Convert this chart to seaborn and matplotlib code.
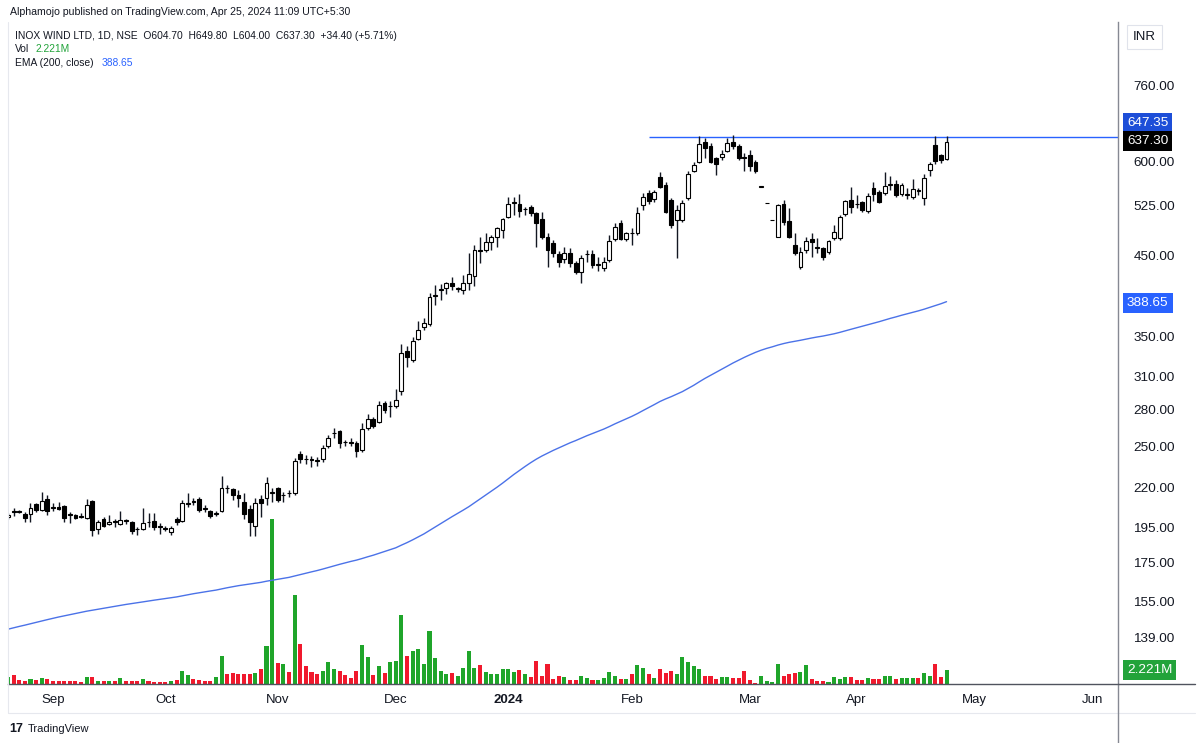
import numpy as np
import pandas as pd
import matplotlib
matplotlib.use("Agg")
import matplotlib.pyplot as plt
import seaborn as sns
from matplotlib.ticker import FixedLocator, NullLocator, FuncFormatter
from matplotlib.transforms import blended_transform_factory
from matplotlib.lines import Line2D

# ---------------- data ----------------
opens = [201.0, 204.6, 205.0, 203.2, 203.2, 209.2, 205.4, 212.3, 206.8, 207.3,
         207.8, 202.5, 202.3, 201.3, 200.7, 211.2, 193.6, 199.6, 196.7, 198.3,
         196.7, 198.7, 197.8, 193.8, 193.6, 198.0, 198.6, 195.4, 194.0, 192.2,
         199.9, 198.8, 209.6, 211.2, 212.5, 206.5, 204.7, 202.8, 205.0, 219.8,
         219.2, 215.1, 210.8, 205.9, 195.5, 212.4, 213.0, 216.6, 219.7, 215.0,
         216.5, 216.4, 244.2, 240.3, 240.2, 239.2, 240.1, 250.5, 260.2, 262.0,
         253.2, 252.9, 252.7, 247.1, 264.5, 271.9, 269.6, 285.8, 282.6, 282.6,
         296.7, 335.0, 326.0, 348.2, 360.7, 364.5, 397.6, 404.2, 406.4, 412.8,
         405.9, 404.4, 413.7, 422.1, 457.0, 457.4, 469.2, 476.5, 486.4, 505.6,
         528.8, 527.1, 518.4, 521.5, 512.0, 502.7, 476.5, 466.9, 451.8, 444.5,
         453.6, 439.0, 427.7, 451.2, 451.8, 436.9, 432.5, 443.0, 473.8, 496.5,
         473.8, 481.5, 481.3, 525.3, 545.5, 535.3, 573.0, 558.6, 533.4, 501.6,
         501.6, 536.2, 583.6, 599.6, 638.3, 630.4, 606.5, 608.3, 620.3, 638.3,
         630.4, 607.4, 612.7, 600.2, 555.7, 527.9, 501.1, 476.5, 526.4, 500.0,
         464.5, 434.4, 457.4, 473.1, 460.7, 460.7, 454.1, 474.0, 474.0, 510.5,
         533.4, 526.6, 529.8, 516.0, 553.0, 547.3, 545.3, 559.1, 560.8, 542.9,
         541.6, 539.2, 548.6, 536.5, 585.0, 631.6, 612.7, 604.7]
highs = [203.5, 207.0, 205.5, 204.0, 209.7, 210.0, 217.3, 215.1, 209.7, 210.5,
         208.5, 204.5, 203.0, 203.5, 212.3, 212.0, 199.0, 201.0, 202.3, 199.7,
         205.0, 199.8, 198.5, 195.3, 206.5, 203.5, 203.4, 197.5, 195.6, 195.5,
         201.0, 211.9, 216.4, 213.5, 214.0, 208.5, 205.5, 204.7, 228.3, 221.8,
         220.0, 218.5, 216.4, 208.6, 213.0, 215.1, 227.7, 219.7, 220.8, 217.5,
         218.3, 240.9, 246.5, 243.4, 242.5, 241.6, 250.9, 258.8, 264.1, 263.0,
         255.0, 256.2, 254.0, 268.8, 276.5, 273.3, 287.4, 287.4, 287.4, 298.2,
         342.2, 339.9, 349.6, 367.2, 370.9, 401.1, 410.5, 412.6, 415.0, 421.3,
         408.5, 423.5, 452.7, 464.5, 476.5, 481.7, 479.0, 491.5, 504.3, 538.0,
         538.0, 543.5, 522.6, 525.3, 514.0, 514.7, 481.7, 471.6, 456.0, 462.0,
         460.0, 442.0, 450.0, 457.4, 457.4, 448.0, 448.0, 479.0, 496.5, 501.6,
         484.0, 489.0, 522.5, 545.5, 550.1, 550.1, 581.9, 564.6, 537.0, 525.3,
         533.4, 582.7, 600.2, 649.6, 645.0, 635.2, 609.0, 622.0, 645.0, 651.7,
         633.0, 615.8, 622.2, 603.0, 557.0, 527.9, 501.1, 527.0, 533.4, 520.0,
         481.7, 462.0, 476.5, 481.7, 474.0, 462.0, 472.0, 493.9, 509.4, 533.0,
         555.7, 541.7, 532.0, 544.5, 563.4, 550.1, 581.9, 574.7, 567.3, 562.0,
         553.0, 569.0, 553.0, 577.3, 600.2, 649.6, 615.0, 649.8]
lows = [200.0, 202.0, 203.5, 198.2, 198.2, 204.5, 205.0, 202.3, 204.9, 205.4,
        198.2, 197.5, 200.0, 200.5, 200.0, 189.5, 190.7, 195.0, 196.5, 195.1,
        196.0, 196.8, 191.0, 190.3, 193.0, 195.3, 193.2, 191.0, 192.5, 190.0,
        196.2, 198.0, 207.5, 208.5, 204.0, 204.5, 200.3, 202.0, 204.5, 216.4,
        211.9, 207.5, 200.0, 189.5, 189.5, 201.3, 208.6, 210.8, 210.8, 210.8,
        213.8, 215.5, 237.2, 236.6, 234.5, 235.0, 238.4, 249.0, 256.1, 248.7,
        250.0, 250.0, 242.1, 246.0, 262.8, 264.6, 268.2, 276.7, 273.3, 281.0,
        293.0, 319.6, 324.3, 346.7, 357.5, 362.0, 386.4, 392.1, 399.2, 404.4,
        402.5, 400.0, 404.4, 409.4, 439.0, 455.0, 457.4, 462.0, 474.5, 504.3,
        509.4, 506.9, 509.4, 507.9, 462.0, 472.5, 433.6, 447.2, 433.6, 439.0,
        433.6, 425.5, 412.8, 441.2, 433.0, 429.2, 429.2, 441.0, 471.0, 471.6,
        471.0, 464.5, 479.0, 517.3, 527.7, 531.0, 552.9, 512.0, 488.9, 445.8,
        499.0, 533.0, 582.0, 597.5, 607.0, 597.5, 576.1, 603.0, 618.0, 625.0,
        603.3, 583.4, 583.4, 580.0, 555.7, 527.9, 501.1, 476.0, 493.9, 474.0,
        450.4, 431.0, 452.7, 448.0, 452.7, 443.5, 452.0, 471.6, 471.6, 508.0,
        512.0, 520.6, 514.6, 512.0, 531.7, 528.1, 541.7, 550.1, 539.0, 540.0,
        535.0, 535.0, 541.7, 525.3, 574.0, 595.3, 598.0, 604.0]
closes = [202.5, 204.2, 204.0, 200.7, 206.8, 205.4, 211.4, 204.6, 206.6, 206.4,
          200.7, 202.2, 200.8, 201.1, 208.6, 193.2, 198.2, 195.6, 198.2, 198.0,
          199.2, 198.6, 192.5, 193.6, 197.3, 197.8, 195.3, 195.2, 193.8, 194.5,
          198.3, 209.7, 209.8, 210.9, 205.4, 206.3, 201.6, 203.0, 219.7, 219.6,
          215.1, 213.0, 203.2, 198.2, 209.7, 210.1, 223.6, 216.8, 211.9, 215.2,
          216.3, 239.1, 240.2, 240.1, 240.0, 239.0, 248.9, 256.2, 260.4, 252.7,
          253.0, 252.7, 246.3, 263.4, 271.9, 266.4, 284.3, 279.9, 282.8, 288.3,
          333.4, 328.6, 346.0, 357.5, 365.2, 395.4, 398.2, 404.5, 412.8, 409.4,
          406.1, 412.8, 424.4, 457.4, 456.0, 469.2, 476.5, 489.0, 502.7, 526.4,
          529.1, 516.2, 518.6, 512.9, 497.6, 476.5, 457.4, 452.7, 441.2, 453.6,
          439.0, 427.7, 445.8, 451.4, 436.7, 437.1, 441.2, 470.6, 491.5, 473.8,
          481.3, 481.3, 512.0, 537.8, 531.7, 546.6, 555.7, 514.6, 493.9, 517.3,
          528.1, 577.3, 594.1, 633.3, 626.4, 599.6, 595.3, 614.1, 635.2, 630.4,
          606.5, 607.2, 592.8, 583.4, 555.7, 527.9, 501.1, 525.3, 498.9, 476.5,
          452.7, 455.1, 470.2, 468.2, 460.5, 448.0, 470.2, 483.0, 506.7, 531.7,
          522.4, 526.2, 517.3, 540.6, 542.9, 530.9, 556.9, 559.3, 541.7, 559.1,
          541.8, 551.4, 548.3, 571.3, 595.4, 601.4, 602.9, 637.3]
volumes_m = [1.18, 1.45, 0.59, 0.48, 0.75, 0.59, 0.91, 0.75, 0.48, 0.43,
             0.54, 0.54, 0.43, 0.38, 1.18, 1.18, 0.48, 0.43, 0.43, 0.43,
             0.91, 0.54, 0.54, 0.48, 0.81, 0.43, 0.38, 0.38, 0.38, 0.54,
             0.65, 2.10, 1.45, 0.75, 0.65, 0.54, 0.48, 1.18, 4.57, 1.61,
             1.83, 1.61, 1.61, 1.61, 1.83, 2.37, 6.18, 26.6, 3.44, 3.17,
             1.99, 14.35, 6.45, 2.90, 1.94, 1.61, 2.15, 3.55, 2.37, 2.15,
             1.45, 0.91, 2.15, 6.34, 4.30, 1.45, 2.96, 1.83, 3.49, 3.66,
             11.13, 4.57, 5.32, 5.59, 3.17, 8.55, 4.14, 2.15, 1.61, 1.83,
             1.34, 2.58, 5.27, 2.58, 3.01, 1.99, 1.61, 1.61, 2.37, 2.37,
             1.99, 2.26, 1.56, 1.08, 3.71, 1.29, 3.17, 0.75, 1.29, 1.18,
             0.65, 0.65, 1.34, 0.97, 0.65, 0.65, 0.91, 1.99, 1.34, 0.75,
             0.75, 1.61, 3.01, 2.63, 1.61, 1.02, 2.37, 1.72, 2.10, 1.61,
             4.30, 3.49, 2.90, 2.47, 1.29, 1.29, 0.86, 1.18, 1.18, 1.02,
             1.02, 2.15, 0.65, 0.21, 1.34, 0.48, 0.27, 3.23, 1.34, 1.61,
             1.83, 1.94, 3.01, 0.86, 0.48, 0.48, 0.32, 1.08, 0.81, 1.18,
             1.18, 0.65, 0.65, 1.02, 0.81, 0.81, 1.34, 1.34, 0.81, 0.91,
             0.91, 0.91, 1.02, 1.83, 1.34, 3.28, 1.13, 2.221]

month_labels = ["Sep", "Oct", "Nov", "Dec", "2024", "Feb", "Mar", "Apr", "May", "Jun"]
month_pos = [8, 28, 48, 69, 89, 111, 132, 151, 172, 193]
price_ticks = [139, 155, 175, 195, 220, 250, 280, 310, 350, 450, 525, 600, 760]
ema_seed = 142.4          # EMA(200) value at the first visible bar
ema_last_label = "388.65"
ema_last = 388.65
hline_price = 647.35
hline_start = 114
last_close_label = "637.30"
last_close = 637.30
vol_label = "2.221M"
vol_last = 2.221

# ---------------- style ----------------
sns.set_theme(style="white")
plt.rcParams["font.family"] = ["Liberation Sans", "DejaVu Sans"]
TXT = "#131722"
GREEN = "#1fa52a"
RED = "#f0192d"
BLUE = "#2962ff"
EMA_C = "#4b72e8"

W, H = 1200, 743
fig = plt.figure(figsize=(W / 100, H / 100), dpi=100)
fig.patch.set_facecolor("white")

L, R, T, B = 8, 1118, 22, 684
rect = [L / W, 1 - B / H, (R - L) / W, (B - T) / H]
ax2 = fig.add_axes(rect)          # volume pane
ax = fig.add_axes(rect, sharex=ax2)  # price pane
ax.patch.set_visible(False)

n = len(closes)
idx = np.arange(n)
o = np.array(opens); c = np.array(closes); h = np.array(highs); lo = np.array(lows)
v = np.array(volumes_m)
up = c >= o

# volume bars via seaborn
vdf = pd.DataFrame({"i": idx, "vol": v, "dir": np.where(up, "up", "down")})
sns.barplot(data=vdf, x="i", y="vol", hue="dir", palette={"up": GREEN, "down": RED},
            native_scale=True, dodge=False, width=0.72, saturation=1, legend=False,
            ax=ax2, linewidth=0)
ax2.set_ylim(0, v.max() * 4.01)
ax2.set_yticks([])
ax2.set_ylabel("")
ax2.set_xlabel("")
for s in ax2.spines.values():
    s.set_visible(False)

# EMA 200
alpha = 2 / 201
ema = np.empty(n)
ema[0] = ema_seed
for k in range(1, n):
    ema[k] = ema[k - 1] + alpha * (c[k] - ema[k - 1])
sns.lineplot(x=idx, y=ema, ax=ax, color=EMA_C, lw=1.0, zorder=2)

# candles
ax.vlines(idx, lo, h, color=TXT, lw=1.0, zorder=3)
body_lo = np.minimum(o, c)
body_hi = np.maximum(o, c)
body_hi = np.maximum(body_hi, body_lo * 1.0025)
ax.bar(idx, body_hi - body_lo, bottom=body_lo, width=0.68,
       color=np.where(up, "white", "black"), edgecolor="black", linewidth=0.8, zorder=4)

# horizontal line
xmax = (R - L) / 5.62
ax.hlines(hline_price, hline_start, xmax + 5, color=BLUE, lw=1.0, zorder=2)

# axes config
ax.set_yscale("log")
ax.set_ylim(120.3, 922.7)
ax.set_xlim(0, xmax)
ax.yaxis.set_major_locator(FixedLocator(price_ticks))
ax.yaxis.set_minor_locator(NullLocator())
ax.yaxis.set_major_formatter(FuncFormatter(lambda y, p: f"{y:.2f}"))
ax.yaxis.tick_right()
ax.tick_params(axis="y", length=0, pad=11, labelsize=9.7, labelcolor=TXT)
ax.set_xticks(month_pos)
ax.set_xticklabels(month_labels)
ax.tick_params(axis="x", length=0, pad=7, labelsize=9.5, labelcolor=TXT)
for lab in ax.get_xticklabels():
    if lab.get_text() == "2024":
        lab.set_fontweight("bold")
ax.set_ylabel(""); ax.set_xlabel("")
ax2.tick_params(axis="x", length=0, labelbottom=False)
for s in ["left", "top"]:
    ax.spines[s].set_visible(False)
ax.spines["bottom"].set_color("#50535e")
ax.spines["right"].set_color("#868993")
ax.spines["bottom"].set_linewidth(1.0)
ax.spines["right"].set_linewidth(1.0)

# price scale labels
tr = blended_transform_factory(ax.transAxes, ax.transData)
xl = (1127 - L) / (R - L)
def box(y, text, fc, dy=0, trans=tr):
    ax.annotate(text, xy=(xl, y), xycoords=trans, xytext=(0, dy), textcoords="offset pixels",
                ha="left", va="center", fontsize=9.7, color="white",
                bbox=dict(boxstyle="square,pad=0.3", fc=fc, ec="none"), zorder=10,
                annotation_clip=False)
box(hline_price, "647.35", "#1d4ed8", dy=14)
box(last_close, last_close_label, "black", dy=1)
box(ema_last, ema_last_label, BLUE)
trv = blended_transform_factory(ax.transAxes, ax2.transData)
ax2.annotate(vol_label, xy=(xl, vol_last), xycoords=trv, xytext=(0, 0), textcoords="offset pixels",
             ha="left", va="center", fontsize=9.7, color="white",
             bbox=dict(boxstyle="square,pad=0.3", fc="#22a33a", ec="none"), zorder=10,
             annotation_clip=False)

# INR box
fig.text(1133 / W, 1 - 37 / H, "INR", fontsize=9.5, color=TXT, ha="left", va="center",
         bbox=dict(boxstyle="square,pad=0.45", fc="white", ec="#e0e3eb", lw=0.8))

# header texts
fig.text(10 / W, 1 - 12 / H, "Alphamojo published on TradingView.com, Apr 25, 2024 11:09 UTC+5:30",
         fontsize=7.6, color=TXT, ha="left", va="center")
fig.text(15 / W, 1 - 36 / H,
         "INOX WIND LTD, 1D, NSE  O604.70  H649.80  L604.00  C637.30  +34.40 (+5.71%)",
         fontsize=7.4, color=TXT, ha="left", va="center")
fig.text(15 / W, 1 - 49 / H, "Vol", fontsize=7.4, color=TXT, ha="left", va="center")
fig.text(35 / W, 1 - 49 / H, "2.221M", fontsize=7.4, color="#22a33a", ha="left", va="center")
fig.text(15 / W, 1 - 63 / H, "EMA (200, close)", fontsize=7.4, color=TXT, ha="left", va="center")
fig.text(102 / W, 1 - 63 / H, "388.65", fontsize=7.4, color=BLUE, ha="left", va="center")

# bottom branding
fig.text(9 / W, 1 - 729 / H, "17", fontsize=9, fontweight="bold", color=TXT, ha="left", va="center")
fig.text(28 / W, 1 - 729 / H, "TradingView", fontsize=8.0, color=TXT, ha="left", va="center")

# panel frame lines
def fline(x0, y0, x1, y1, col, lw=0.8):
    fig.add_artist(Line2D([x0 / W, x1 / W], [1 - y0 / H, 1 - y1 / H], color=col, lw=lw))
fline(L, T, L, 713, "#e6e8ee")
fline(L, 713, 1195, 713, "#e6e8ee")
fline(R, B, R, 743, "#868993", 1.0)
fline(R, 684, 1195, 684, "#50535e", 1.0)

fig.savefig("out.png", dpi=100, facecolor="white")
